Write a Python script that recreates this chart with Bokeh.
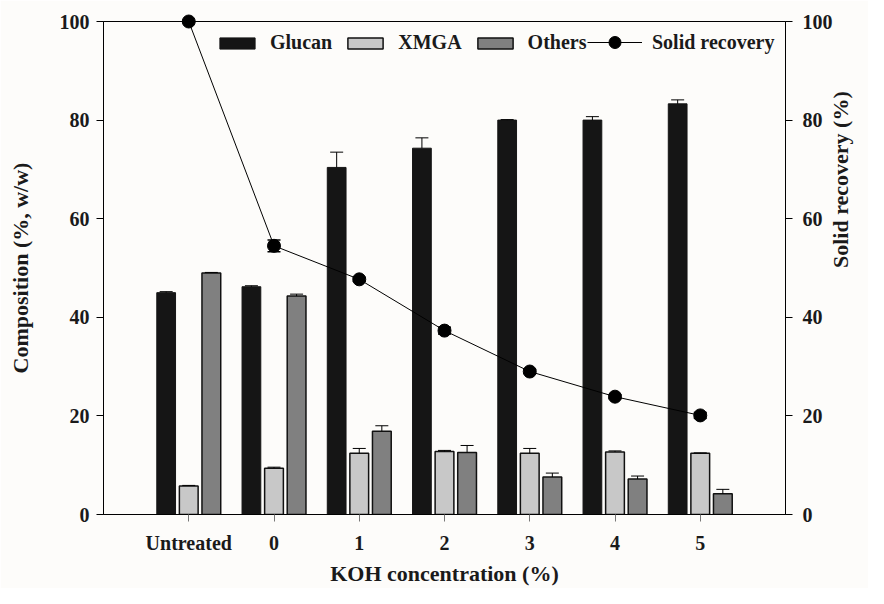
import math
from bokeh.plotting import figure
from bokeh.models import (ColumnDataSource, LinearAxis, Range1d, FixedTicker, Whisker,
                          TeeHead, Legend, LegendItem)
from bokeh.transform import dodge
from bokeh.embed import file_html
from bokeh.resources import INLINE

categories = ["Untreated", "0", "1", "2", "3", "4", "5"]
glucan = [45.0, 46.2, 70.4, 74.3, 80.0, 80.0, 83.3]
glucan_err = [0.2, 0.2, 3.1, 2.1, 0.1, 0.7, 0.8]
xmga = [5.8, 9.4, 12.4, 12.8, 12.4, 12.7, 12.4]
xmga_err = [0.1, 0.2, 1.0, 0.2, 1.0, 0.2, 0.1]
others = [49.0, 44.3, 16.9, 12.6, 7.6, 7.2, 4.2]
others_err = [0.1, 0.4, 1.1, 1.4, 0.8, 0.6, 0.9]
recovery = [100.0, 54.5, 47.7, 37.3, 29.0, 23.9, 20.1]
recovery_err = [0.0, 1.2, 0.4, 0.7, 0.4, 0.4, 0.6]
y_ticks = [0, 20, 40, 60, 80, 100]

x = list(range(len(categories)))
src = ColumnDataSource(dict(
    x=x,
    glucan=glucan, glucan_top=[v + e for v, e in zip(glucan, glucan_err)],
    xmga=xmga, xmga_top=[v + e for v, e in zip(xmga, xmga_err)],
    others=others, others_top=[v + e for v, e in zip(others, others_err)],
    rec=recovery,
    rec_lo=[v - e for v, e in zip(recovery, recovery_err)],
    rec_hi=[v + e for v, e in zip(recovery, recovery_err)],
))

FONT = "Liberation Serif"
BG = "#fdfcfa"

p = figure(width=868, height=588, output_backend="svg", toolbar_location=None,
           x_range=Range1d(-1, 7), y_range=Range1d(0, 100),
           min_border_left=103, min_border_right=80, min_border_top=21, min_border_bottom=74)
p.background_fill_color = BG
p.border_fill_color = BG
p.outline_line_color = "black"
p.xgrid.visible = False
p.ygrid.visible = False
p.extra_y_ranges = {"rec": Range1d(0, 100)}

off = 0.265
bw = 0.22
r_g = p.vbar(x=dodge("x", -off), top="glucan", width=bw, source=src,
             fill_color="#151515", line_color="#151515", line_width=1)
r_x = p.vbar(x=dodge("x", 0), top="xmga", width=bw, source=src,
             fill_color="#c8c8c8", line_color="#111111", line_width=1.5)
r_o = p.vbar(x=dodge("x", off), top="others", width=bw, source=src,
             fill_color="#808080", line_color="#111111", line_width=1.5)

for col, o in [("glucan", -off), ("xmga", 0), ("others", off)]:
    w = Whisker(source=src, base=dodge("x", o), lower=col, upper=col + "_top",
                dimension="height", lower_head=None,
                upper_head=TeeHead(size=13, line_color="black", line_width=1),
                line_color="black", line_width=1, level="annotation")
    p.add_layout(w)

r_line = p.line(x="x", y="rec", source=src, line_color="black", line_width=1,
                y_range_name="rec", level="overlay")
rw = Whisker(source=src, base="x", lower="rec_lo", upper="rec_hi", dimension="height",
             lower_head=TeeHead(size=13, line_color="black", line_width=1.5),
             upper_head=TeeHead(size=13, line_color="black", line_width=1.5),
             line_color="black", line_width=1.5, y_range_name="rec", level="overlay")
p.add_layout(rw)
r_pts = p.scatter(x="x", y="rec", source=src, size=13, fill_color="black", line_color="black",
                  y_range_name="rec", level="overlay")

def style_axis(ax):
    ax.axis_line_color = "black"
    ax.axis_line_width = 1
    ax.major_tick_line_color = "black"
    ax.major_tick_in = 0
    ax.major_tick_out = 7
    ax.minor_tick_line_color = None
    ax.major_label_text_font = FONT
    ax.major_label_text_font_style = "bold"
    ax.major_label_text_font_size = "20px"
    ax.major_label_text_color = "#1a1a1a"
    ax.axis_label_text_font = FONT
    ax.axis_label_text_font_style = "bold"
    ax.axis_label_text_font_size = "22px"
    ax.axis_label_text_color = "#1a1a1a"

yl = p.yaxis[0]
style_axis(yl)
yl.ticker = FixedTicker(ticks=y_ticks)
yl.axis_label = "Composition (%, w/w)"
yl.major_label_standoff = 7
yl.axis_label_standoff = 24

xa = p.xaxis[0]
style_axis(xa)
xa.ticker = FixedTicker(ticks=x)
xa.major_label_overrides = {i: c for i, c in zip(x, categories)}
xa.major_tick_line_color = "#777777"
xa.axis_label = "KOH concentration (%)"
xa.major_label_standoff = 10
xa.axis_label_standoff = 4

yr = LinearAxis(y_range_name="rec", ticker=FixedTicker(ticks=y_ticks),
                axis_label="Solid recovery (%)")
style_axis(yr)
yr.major_label_standoff = 10
yr.axis_label_standoff = 5
yr.axis_label_orientation = math.pi / 2
p.add_layout(yr, "right")

def style_legend(lg):
    lg.orientation = "horizontal"
    lg.padding = 0
    lg.margin = 0
    lg.border_line_color = None
    lg.background_fill_alpha = 0
    lg.label_text_font = FONT
    lg.label_text_font_style = "bold"
    lg.label_text_font_size = "20px"
    lg.label_text_color = "#1a1a1a"
    lg.label_height = 20

legend = Legend(items=[
    LegendItem(label="Glucan", renderers=[r_g]),
    LegendItem(label="XMGA", renderers=[r_x]),
    LegendItem(label="Others", renderers=[r_o]),
], location=(112, 460))
style_legend(legend)
legend.glyph_width = 44
legend.glyph_height = 14
legend.label_standoff = 11
legend.spacing = 11
p.add_layout(legend)

legend2 = Legend(items=[
    LegendItem(label="Solid recovery", renderers=[r_line, r_pts]),
], location=(484, 457))
style_legend(legend2)
legend2.glyph_width = 55
legend2.glyph_height = 30
legend2.label_standoff = 10
p.add_layout(legend2)

open("out.html", "w").write(file_html(p, INLINE))
